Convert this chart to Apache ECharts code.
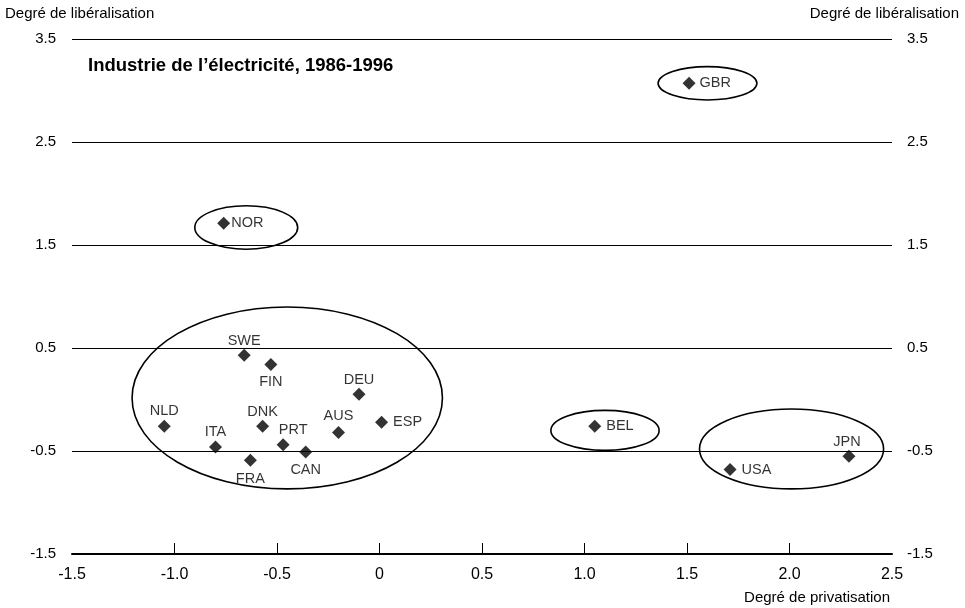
<!DOCTYPE html>
<html>
<head>
<meta charset="utf-8">
<script src="https://cdn.jsdelivr.net/npm/echarts@6/dist/echarts.min.js"></script>
<style>html,body{margin:0;padding:0;background:#fff;}#c{width:965px;height:608px;}</style>
</head>
<body>
<div id="c"></div>
<script>
// ---- data ----
const countries      = ['GBR','NOR','SWE','FIN','DEU','NLD','DNK','ITA','PRT','CAN','FRA','AUS','ESP','BEL','JPN','USA'];
const privatisation  = [1.51,-0.76,-0.66,-0.53,-0.10,-1.05,-0.57,-0.80,-0.47,-0.36,-0.63,-0.20,0.01,1.05,2.29,1.71];
const liberalisation = [3.07,1.71,0.43,0.34,0.05,-0.26,-0.26,-0.46,-0.44,-0.51,-0.59,-0.32,-0.22,-0.26,-0.55,-0.68];

// groups circled on the chart (centre and half-extent in data units)
const groupCx = [-0.45,-0.65,1.60,1.10,2.01];
const groupCy = [0.015,1.67,3.07,-0.30,-0.48];
const groupRx = [0.757,0.251,0.241,0.264,0.449];
const groupRy = [0.883,0.211,0.162,0.194,0.388];

const xTicks = [-1.0,-0.5,0,0.5,1.0,1.5,2.0];
const yTicks = [-1.5,-0.5,0.5,1.5,2.5,3.5];

const title = 'Industrie de l\u2019électricité, 1986-1996';
const yName = 'Degré de libéralisation';
const xName = 'Degré de privatisation';

// ---- label placement (style) ----
const labelPlace = {
  GBR:['right',4], NOR:['right',1], SWE:['top',0], FIN:['bottom',4], DEU:['top',0],
  NLD:['top',1], DNK:['top',0], ITA:['top',1], PRT:['top',1], CAN:['bottom',4],
  FRA:['bottom',5], AUS:['top',2], ESP:['right',5], BEL:['right',5], JPN:['top',0], USA:['right',5]
};
const labelOffset = { PRT:[10,0], JPN:[-2,0] };

const FONT = '"Liberation Sans", Arial, sans-serif';

const points = countries.map((n,i) => ({
  name: n,
  value: [privatisation[i], liberalisation[i]],
  label: { position: labelPlace[n][0], distance: labelPlace[n][1], offset: labelOffset[n] || [0,0] }
}));
const ellipses = groupCx.map((c,i) => [c, groupCy[i], groupRx[i], groupRy[i]]);

const chart = echarts.init(document.getElementById('c'), null, {renderer:'canvas'});
const yAxisCommon = {
  type:'value', min:-1.5, max:3.5,
  axisLine:{show:false}, axisTick:{show:false}, splitLine:{show:false},
  axisLabel:{ customValues: yTicks, color:'#000', fontSize:15, fontFamily:FONT, padding:[0,0,11,0],
              formatter: v => v.toFixed(1) }
};
chart.setOption({
  animation:false,
  backgroundColor:'#fff',
  textStyle:{fontFamily:FONT},
  title:{ text:title, left:88, top:56, padding:0, textStyle:{fontSize:18.5, fontWeight:'bold', color:'#000', fontFamily:FONT} },
  grid:{ left:72, right:73, top:39, bottom:54, containLabel:false },
  xAxis:{
    type:'value', min:-1.5, max:2.5, interval:0.5,
    axisLine:{show:true, onZero:false, lineStyle:{color:'#000', width:2}},
    axisTick:{show:true, inside:true, length:11, customValues:xTicks, lineStyle:{color:'#000', width:1}},
    splitLine:{show:false},
    axisLabel:{ color:'#000', fontSize:16, fontFamily:FONT, margin:13,
                formatter: v => v === 0 ? '0' : v.toFixed(1) }
  },
  yAxis:[
    Object.assign({position:'left'}, yAxisCommon, {axisLabel:Object.assign({}, yAxisCommon.axisLabel, {margin:16})}),
    Object.assign({position:'right'}, yAxisCommon, {axisLabel:Object.assign({}, yAxisCommon.axisLabel, {margin:15})})
  ],
  graphic:[
    {type:'text', left:5, top:6, style:{text:yName, fontSize:15, fontFamily:FONT, fill:'#000'}},
    {type:'text', right:6, top:6, style:{text:yName, fontSize:15, fontFamily:FONT, fill:'#000'}},
    {type:'text', right:75, top:590, style:{text:xName, fontSize:15, fontFamily:FONT, fill:'#000'}}
  ],
  series:[
    {
      type:'custom', silent:true, z:1,
      renderItem:(params, api) => {
        const c = api.coord([api.value(0), api.value(1)]);
        const s = api.size([api.value(2), api.value(3)]);
        return { type:'ellipse', shape:{cx:c[0], cy:c[1], rx:s[0], ry:s[1]},
                 style:{fill:'none', stroke:'#000', lineWidth:1.6} };
      },
      data: ellipses
    },
    {
      type:'scatter', symbol:'diamond', symbolSize:13, z:3,
      itemStyle:{color:'#000'},
      label:{show:true, formatter:'{b}', color:'#000', fontSize:14.5, fontFamily:FONT},
      data: points,
      markLine:{
        silent:true, symbol:['none','none'], label:{show:false},
        lineStyle:{color:'#000', width:1, type:'solid'},
        data: yTicks.filter(v => v > -1.5).map(v => ({yAxis:v}))
      }
    }
  ]
});
</script>
</body>
</html>
